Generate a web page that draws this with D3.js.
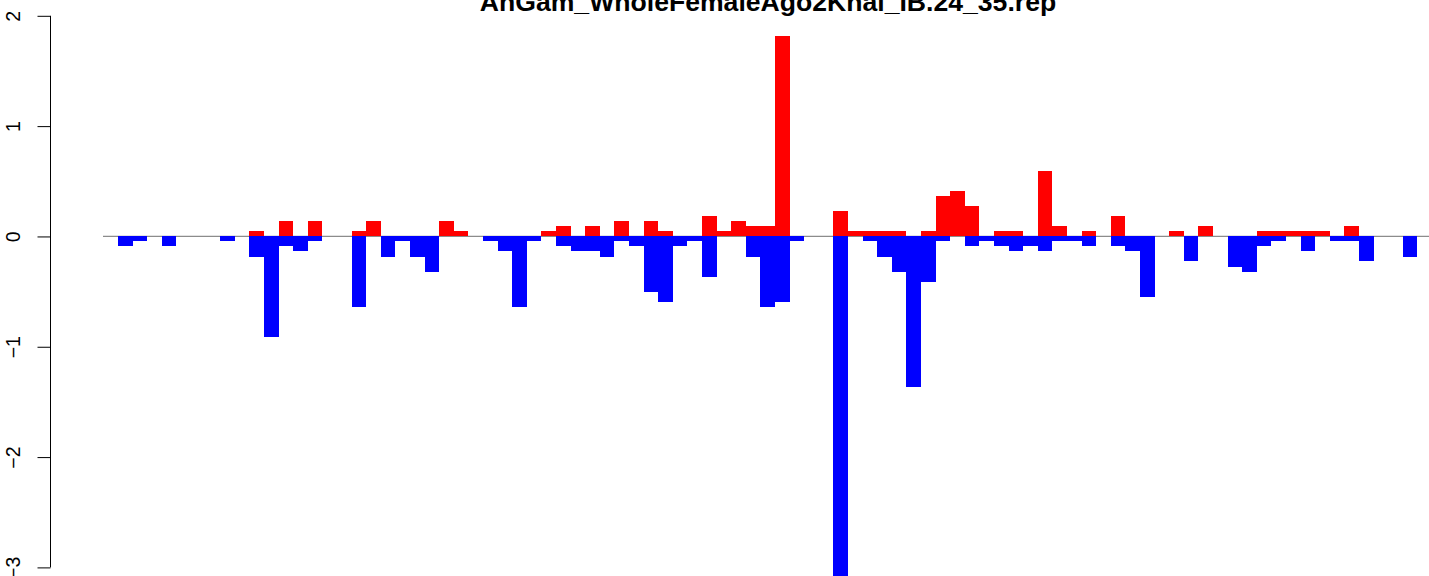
<!DOCTYPE html>
<html>
<head>
<meta charset="utf-8">
<script src="https://cdn.jsdelivr.net/npm/d3@7"></script>
<style>
  html, body { margin: 0; padding: 0; background: #fff; }
  svg { display: block; }
</style>
</head>
<body>
<svg id="chart" width="1429" height="576"></svg>
<script>
const title = "AnGam_WholeFemaleAgo2Khal_IB.24_35.rep";
const yTicks = [2, 1, 0, -1, -2, -3];
const positive = [
  0, 0, 0, 0, 0, 0, 0, 0, 0, 0.045,
  0, 0.136, 0, 0.136, 0, 0, 0.045, 0.136, 0, 0,
  0, 0, 0.136, 0.045, 0, 0, 0, 0, 0, 0.045,
  0.091, 0, 0.091, 0, 0.136, 0, 0.136, 0.045, 0, 0,
  0.182, 0.045, 0.136, 0.091, 0.091, 1.818, 0, 0, 0, 0.227,
  0.045, 0.045, 0.045, 0.045, 0, 0.045, 0.364, 0.409, 0.273, 0,
  0.045, 0.045, 0, 0.591, 0.091, 0, 0.045, 0, 0.182, 0,
  0, 0, 0.045, 0, 0.091, 0, 0, 0, 0.045, 0.045,
  0.045, 0.045, 0.045, 0, 0.091, 0, 0, 0, 0
];
const negative = [
  -0.091, -0.045, 0, -0.091, 0, 0, 0, -0.045, 0, -0.182,
  -0.909, -0.091, -0.136, -0.045, 0, 0, -0.636, 0, -0.182, -0.045,
  -0.182, -0.318, 0, 0, 0, -0.045, -0.136, -0.636, -0.045, 0,
  -0.091, -0.136, -0.136, -0.182, -0.045, -0.091, -0.5, -0.591, -0.091, -0.045,
  -0.364, 0, 0, -0.182, -0.636, -0.591, -0.045, 0, 0, -3.09,
  0, -0.045, -0.182, -0.318, -1.364, -0.409, -0.045, 0, -0.091, -0.045,
  -0.091, -0.136, -0.091, -0.136, -0.045, -0.045, -0.091, 0, -0.091, -0.136,
  -0.545, 0, 0, -0.227, 0, 0, -0.273, -0.318, -0.091, -0.045,
  0, -0.136, 0, -0.045, -0.045, -0.227, 0, 0, -0.182
];
const idx = d3.range(positive.length);

const svg = d3.select("#chart");
const y = d3.scaleLinear().domain([-3, 2]).range([567.4, 15.8]);
const x = d3.scaleBand().domain(idx).range([118, 1417.4]).padding(0);

// zero line
svg.append("line")
  .attr("x1", 103).attr("x2", 1429)
  .attr("y1", y(0)).attr("y2", y(0))
  .attr("stroke", "#8c8c8c").attr("stroke-width", 1.2);

// red bars
svg.append("g").selectAll("rect").data(idx.filter(i => positive[i] > 0)).join("rect")
  .attr("x", i => x(i)).attr("width", x.bandwidth())
  .attr("y", i => y(positive[i])).attr("height", i => y(0) - y(positive[i]))
  .attr("fill", "#ff0000").attr("shape-rendering", "crispEdges");

// blue bars
svg.append("g").selectAll("rect").data(idx.filter(i => negative[i] < 0)).join("rect")
  .attr("x", i => x(i)).attr("width", x.bandwidth())
  .attr("y", y(0)).attr("height", i => y(negative[i]) - y(0))
  .attr("fill", "#0000ff").attr("shape-rendering", "crispEdges");

// y axis
const axis = d3.axisLeft(y).tickValues(yTicks).tickSize(13).tickPadding(0)
  .tickFormat(d => d < 0 ? "\u2212" + Math.abs(d) : String(d));
const gAxis = svg.append("g").attr("transform", "translate(50.5,0)").call(axis);
gAxis.select(".domain").attr("d", `M0,${y(2)}V${y(-3)}`).attr("stroke", "#000").attr("stroke-width", 1);
gAxis.selectAll(".tick line").attr("stroke", "#000").attr("stroke-width", 1);
gAxis.selectAll(".tick text")
  .attr("x", null).attr("dy", null)
  .attr("transform", "translate(-30.5,0) rotate(-90)")
  .attr("text-anchor", "middle")
  .attr("font-family", "Liberation Sans, Arial, sans-serif")
  .attr("font-size", 19.5).attr("fill", "#000");

// title
svg.append("text")
  .attr("x", 768).attr("y", 10.5)
  .attr("text-anchor", "middle")
  .attr("font-family", "Liberation Sans, Arial, sans-serif")
  .attr("font-weight", "bold")
  .attr("font-size", 26.6)
  .attr("fill", "#000")
  .text(title);
</script>
</body>
</html>
